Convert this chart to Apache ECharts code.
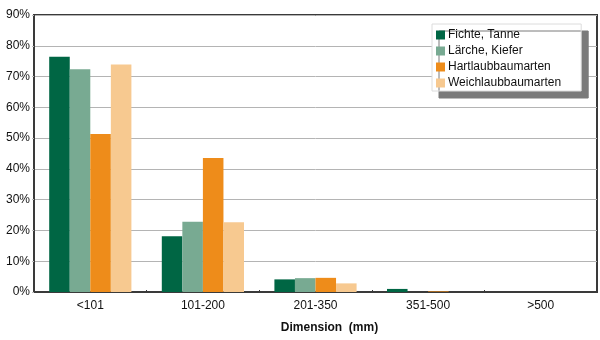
<!DOCTYPE html>
<html><head><meta charset="utf-8">
<script src="https://cdn.jsdelivr.net/npm/echarts@6/dist/echarts.min.js"></script>
<style>html,body{margin:0;padding:0;background:#fff}#c{width:600px;height:340px}</style>
</head><body><div id="c"></div>
<script>
const categories = ['<101', '101-200', '201-350', '351-500', '>500'];
const fichteTanne = [76.4, 18.1, 4.1, 1.0, 0];
const laercheKiefer = [72.4, 22.8, 4.5, 0, 0];
const hartlaub = [51.3, 43.5, 4.6, 0.2, 0];
const weichlaub = [73.9, 22.7, 2.8, 0, 0];
const seriesNames = ['Fichte, Tanne', 'Lärche, Kiefer', 'Hartlaubbaumarten', 'Weichlaubbaumarten'];
const colors = ['#006644', '#78aa92', '#ee8c1a', '#f7c990'];
const font = 'Liberation Sans, Arial, sans-serif';

const chart = echarts.init(document.getElementById('c'), null, {renderer: 'canvas'});
const data = [fichteTanne, laercheKiefer, hartlaub, weichlaub];
chart.setOption({
  animation: false,
  textStyle: {fontFamily: font},
  grid: {left: 34, right: 3, top: 15, bottom: 48, show: true, borderColor: '#3a3a3a', borderWidth: 2, backgroundColor: '#fff'},
  legend: {
    orient: 'vertical', left: 432, top: 24,
    itemWidth: 9, itemHeight: 9, itemGap: 2,
    padding: [4, 20, 1, 4],
    backgroundColor: '#fff', borderColor: '#dcdcdc', borderWidth: 1,
    shadowColor: '#7a7a7a', shadowOffsetX: 7, shadowOffsetY: 7, shadowBlur: 0,
    textStyle: {fontFamily: font, fontSize: 12, color: '#111', lineHeight: 14, padding: [0, 0, 0, -2]},
    icon: 'rect',
    data: seriesNames
  },
  xAxis: {
    type: 'category', data: categories,
    axisLine: {lineStyle: {color: '#3a3a3a', width: 2}},
    axisTick: {show: true, inside: true, length: 2, lineStyle: {color: '#3a3a3a'}},
    axisLabel: {fontFamily: font, fontSize: 12, color: '#111', margin: 8},
    name: 'Dimension  (mm)', nameLocation: 'middle', nameGap: 30,
    nameTextStyle: {fontFamily: font, fontSize: 12, fontWeight: 'bold', color: '#111', padding: [0, 0, 0, 28]}
  },
  yAxis: {
    type: 'value', min: 0, max: 90, interval: 10,
    axisLine: {show: true, lineStyle: {color: '#3a3a3a', width: 2}},
    axisTick: {show: true, length: 2, lineStyle: {color: '#bbb'}},
    axisLabel: {fontFamily: font, fontSize: 12, color: '#111', formatter: '{value}%', margin: 4},
    splitLine: {lineStyle: {color: '#b4b4b4', width: 1}}
  },
  series: seriesNames.map((n, i) => ({
    name: n, type: 'bar', data: data[i],
    barGap: '0%', barCategoryGap: '27%',
    itemStyle: {color: colors[i]}
  }))
});
</script></body></html>
